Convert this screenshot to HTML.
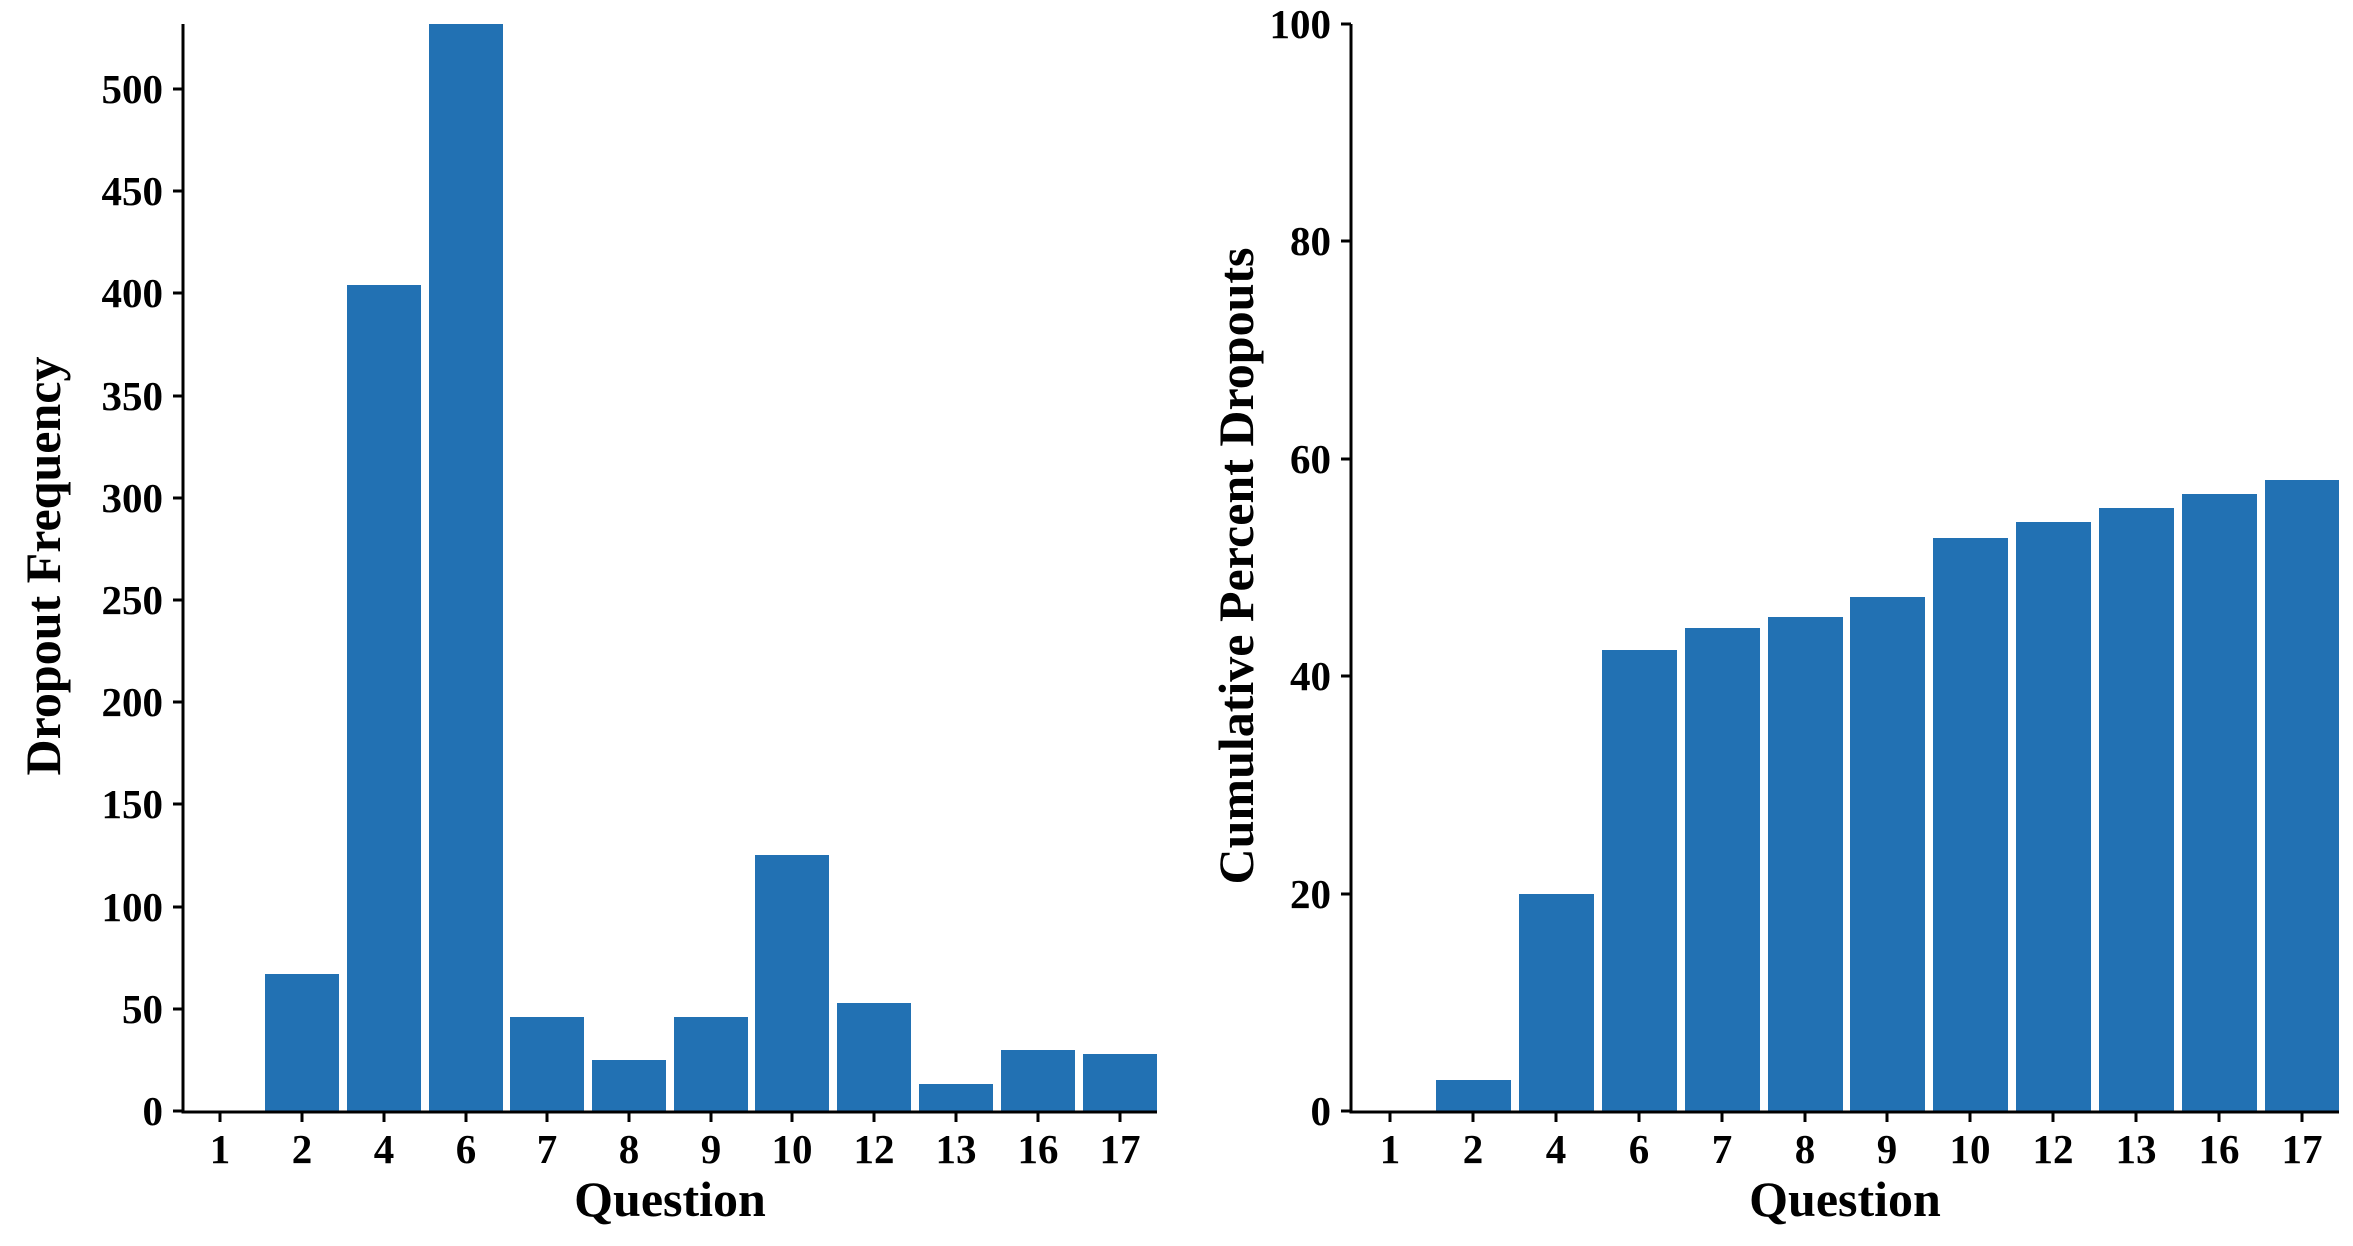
<!DOCTYPE html>
<html><head><style>body{margin:0;background:#fff}svg{display:block}text{font-family:"Liberation Serif",serif;font-weight:bold;fill:#000}</style></head><body>
<svg width="2353" height="1246" viewBox="0 0 2353 1246">
<g id="L">
<g fill="#2271b3">
<rect x="265" y="974" width="74" height="137"/>
<rect x="347" y="285" width="74" height="826"/>
<rect x="429" y="24" width="74" height="1087"/>
<rect x="510" y="1017" width="74" height="94"/>
<rect x="592" y="1060" width="74" height="51"/>
<rect x="674" y="1017" width="74" height="94"/>
<rect x="755" y="855" width="74" height="256"/>
<rect x="837" y="1003" width="74" height="108"/>
<rect x="919" y="1084" width="74" height="27"/>
<rect x="1001" y="1050" width="74" height="61"/>
<rect x="1083" y="1054" width="74" height="57"/>
</g>
<path d="M183 24V1112H1157" stroke="#000" stroke-width="3" fill="none"/>
<g stroke="#000" stroke-width="3">
<path d="M173 1111h10M173 1009h10M173 907h10M173 804h10M173 702h10M173 600h10M173 498h10M173 396h10M173 293h10M173 191h10M173 89h10"/>
<path d="M220 1112v10M302 1112v10M384 1112v10M466 1112v10M547 1112v10M629 1112v10M711 1112v10M792 1112v10M874 1112v10M956 1112v10M1038 1112v10M1120 1112v10"/>
</g>
<g font-size="41" text-anchor="end">
<text x="163" y="1125">0</text><text x="163" y="1023">50</text><text x="163" y="921">100</text><text x="163" y="818">150</text><text x="163" y="716">200</text><text x="163" y="614">250</text><text x="163" y="512">300</text><text x="163" y="410">350</text><text x="163" y="307">400</text><text x="163" y="205">450</text><text x="163" y="103">500</text>
</g>
<g font-size="41" text-anchor="middle">
<text x="220" y="1163">1</text><text x="302" y="1163">2</text><text x="384" y="1163">4</text><text x="466" y="1163">6</text><text x="547" y="1163">7</text><text x="629" y="1163">8</text><text x="711" y="1163">9</text><text x="792" y="1163">10</text><text x="874" y="1163">12</text><text x="956" y="1163">13</text><text x="1038" y="1163">16</text><text x="1120" y="1163">17</text>
</g>
<text x="670" y="1216" font-size="50" text-anchor="middle">Question</text>
<text transform="translate(60,566) rotate(-90)" font-size="50" text-anchor="middle">Dropout Frequency</text>
</g>
<g id="R">
<g fill="#2271b3">
<rect x="1436" y="1080" width="75" height="31"/>
<rect x="1519" y="894" width="75" height="217"/>
<rect x="1602" y="650" width="75" height="461"/>
<rect x="1685" y="628" width="75" height="483"/>
<rect x="1768" y="617" width="75" height="494"/>
<rect x="1850" y="597" width="75" height="514"/>
<rect x="1933" y="538" width="75" height="573"/>
<rect x="2016" y="522" width="75" height="589"/>
<rect x="2099" y="508" width="75" height="603"/>
<rect x="2182" y="494" width="75" height="617"/>
<rect x="2265" y="480" width="74" height="631"/>
</g>
<path d="M1351 24V1112H2339" stroke="#000" stroke-width="3" fill="none"/>
<g stroke="#000" stroke-width="3">
<path d="M1341 1111h10M1341 894h10M1341 676h10M1341 459h10M1341 241h10M1341 24h10"/>
<path d="M1390 1112v10M1473 1112v10M1556 1112v10M1639 1112v10M1722 1112v10M1805 1112v10M1887 1112v10M1970 1112v10M2053 1112v10M2136 1112v10M2219 1112v10M2302 1112v10"/>
</g>
<g font-size="41" text-anchor="end">
<text x="1331" y="1125">0</text><text x="1331" y="908">20</text><text x="1331" y="690">40</text><text x="1331" y="473">60</text><text x="1331" y="255">80</text><text x="1331" y="38">100</text>
</g>
<g font-size="41" text-anchor="middle">
<text x="1390" y="1163">1</text><text x="1473" y="1163">2</text><text x="1556" y="1163">4</text><text x="1639" y="1163">6</text><text x="1722" y="1163">7</text><text x="1805" y="1163">8</text><text x="1887" y="1163">9</text><text x="1970" y="1163">10</text><text x="2053" y="1163">12</text><text x="2136" y="1163">13</text><text x="2219" y="1163">16</text><text x="2302" y="1163">17</text>
</g>
<text x="1845" y="1216" font-size="50" text-anchor="middle">Question</text>
<text transform="translate(1253,566) rotate(-90)" font-size="50" text-anchor="middle">Cumulative Percent Dropouts</text>
</g>
</svg>
</body></html>
